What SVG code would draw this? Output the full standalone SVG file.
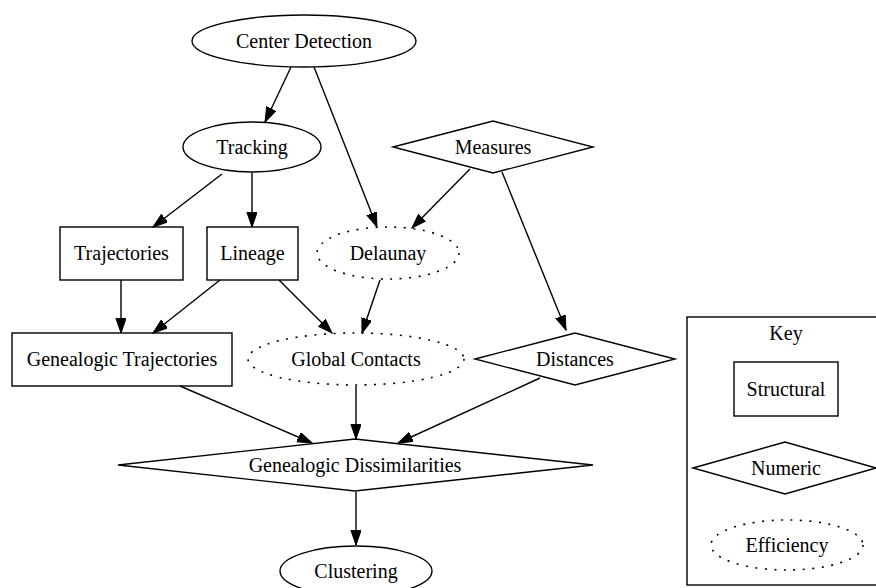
<svg xmlns="http://www.w3.org/2000/svg" width="876" height="588" viewBox="0 0 876 588">
  <style>
    .shape { fill: none; stroke: #000; stroke-width: 1.4; }
    .dotted { stroke-dasharray: 2 7.5; stroke-width: 1.6; }
    .label { font-family: "Liberation Serif", "Times New Roman", serif; font-size: 20px; text-anchor: middle; fill: #000; }
    .edge { fill: none; stroke: #000; stroke-width: 1.4; marker-end: url(#arrow); }
  </style>
  <defs>
    <marker id="arrow" markerUnits="userSpaceOnUse" markerWidth="16" markerHeight="12" refX="14.7" refY="5.1" orient="auto">
      <path d="M0,0 L14.7,5.1 L0,10.2 z" fill="#000" stroke="#000" stroke-width="1"/>
    </marker>
  </defs>
  <rect width="876" height="588" fill="#fff"/>

  <g id="connectors">
    <line class="edge" x1="291" y1="67" x2="265" y2="122"/>
    <line class="edge" x1="314" y1="67" x2="377" y2="227"/>
    <line class="edge" x1="222" y1="174" x2="153" y2="227"/>
    <line class="edge" x1="252" y1="173" x2="252" y2="227"/>
    <line class="edge" x1="470" y1="169" x2="412" y2="228"/>
    <line class="edge" x1="502" y1="172" x2="566" y2="330"/>
    <line class="edge" x1="121" y1="280" x2="121" y2="333"/>
    <line class="edge" x1="220" y1="280" x2="153" y2="333"/>
    <line class="edge" x1="279" y1="280" x2="332" y2="333"/>
    <line class="edge" x1="380" y1="280" x2="362" y2="333"/>
    <line class="edge" x1="180" y1="386" x2="312" y2="443"/>
    <line class="edge" x1="356" y1="386" x2="356" y2="439"/>
    <line class="edge" x1="540" y1="378" x2="398" y2="443"/>
    <line class="edge" x1="356" y1="492" x2="356" y2="545"/>
  </g>

  <g id="center-detection">
    <ellipse class="shape" cx="304" cy="41" rx="112" ry="26"/>
    <text class="label" x="304" y="48">Center Detection</text>
  </g>
  <g id="tracking">
    <ellipse class="shape" cx="252" cy="147" rx="69" ry="25"/>
    <text class="label" x="252" y="154">Tracking</text>
  </g>
  <g id="measures">
    <polygon class="shape" points="393,147 493,121 593,147 493,173"/>
    <text class="label" x="493" y="154">Measures</text>
  </g>
  <g id="trajectories">
    <rect class="shape" x="60" y="227" width="123" height="53"/>
    <text class="label" x="121.5" y="260">Trajectories</text>
  </g>
  <g id="lineage">
    <rect class="shape" x="207" y="227" width="91" height="53"/>
    <text class="label" x="252.5" y="260">Lineage</text>
  </g>
  <g id="delaunay">
    <ellipse class="shape dotted" cx="388" cy="253" rx="71" ry="26"/>
    <text class="label" x="388" y="260">Delaunay</text>
  </g>
  <g id="genealogic-trajectories">
    <rect class="shape" x="12" y="333" width="220" height="53"/>
    <text class="label" x="122" y="366">Genealogic Trajectories</text>
  </g>
  <g id="global-contacts">
    <ellipse class="shape dotted" cx="356" cy="359" rx="108" ry="26"/>
    <text class="label" x="356" y="366">Global Contacts</text>
  </g>
  <g id="distances">
    <polygon class="shape" points="475,359 575,333 675,359 575,385"/>
    <text class="label" x="575" y="366">Distances</text>
  </g>
  <g id="genealogic-dissimilarities">
    <polygon class="shape" points="118,465 355,439 593,465 355,491"/>
    <text class="label" x="355" y="472">Genealogic Dissimilarities</text>
  </g>
  <g id="clustering">
    <ellipse class="shape" cx="356" cy="571" rx="76" ry="25"/>
    <text class="label" x="356" y="578">Clustering</text>
  </g>

  <g id="key">
    <rect class="shape" x="687" y="317" width="200" height="268"/>
    <text class="label" x="786" y="340">Key</text>
    <g id="key-structural">
      <rect class="shape" x="734" y="362" width="104" height="54"/>
      <text class="label" x="786" y="396">Structural</text>
    </g>
    <g id="key-numeric">
      <polygon class="shape" points="693,468 785,442 876,468 785,494"/>
      <text class="label" x="786" y="475">Numeric</text>
    </g>
    <g id="key-efficiency">
      <ellipse class="shape dotted" cx="787" cy="545" rx="76" ry="25"/>
      <text class="label" x="787" y="552">Efficiency</text>
    </g>
  </g>
</svg>
